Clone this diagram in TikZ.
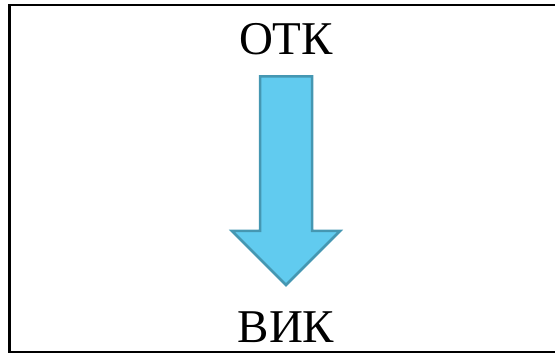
\documentclass[tikz,border=0pt]{standalone}
\usepackage{fontspec}
\setmainfont{Liberation Serif}
\usepackage{xcolor}
\usepackage{tikz}
\usetikzlibrary{positioning,calc}
\definecolor{arrowfill}{RGB}{97,203,239}
\definecolor{arrowline}{RGB}{69,151,178}

\begin{document}
\begin{tikzpicture}[x=1pt,y=1pt,
    label text/.style={inner sep=0pt,anchor=base,font=\fontsize{47}{50}\selectfont},
    block arrow/.style={fill=arrowfill,draw=arrowline,line width=2.5pt,line join=miter}]
  \useasboundingbox (0,0) rectangle (555,354);
  \draw [line width=2.8pt] (9.5,2) rectangle (562,349);
  \node [label text] (otk) at (286,299.7) {ОТК};
  \node [label text] (vik) at (286,11.3) {ВИК};
  % shaft and head
  \draw [block arrow] (260,277.5) -- (312,277.5) -- (312,123) -- (340,123)
    -- (286,69) -- (232,123) -- (260,123) -- cycle;
\end{tikzpicture}
\end{document}
